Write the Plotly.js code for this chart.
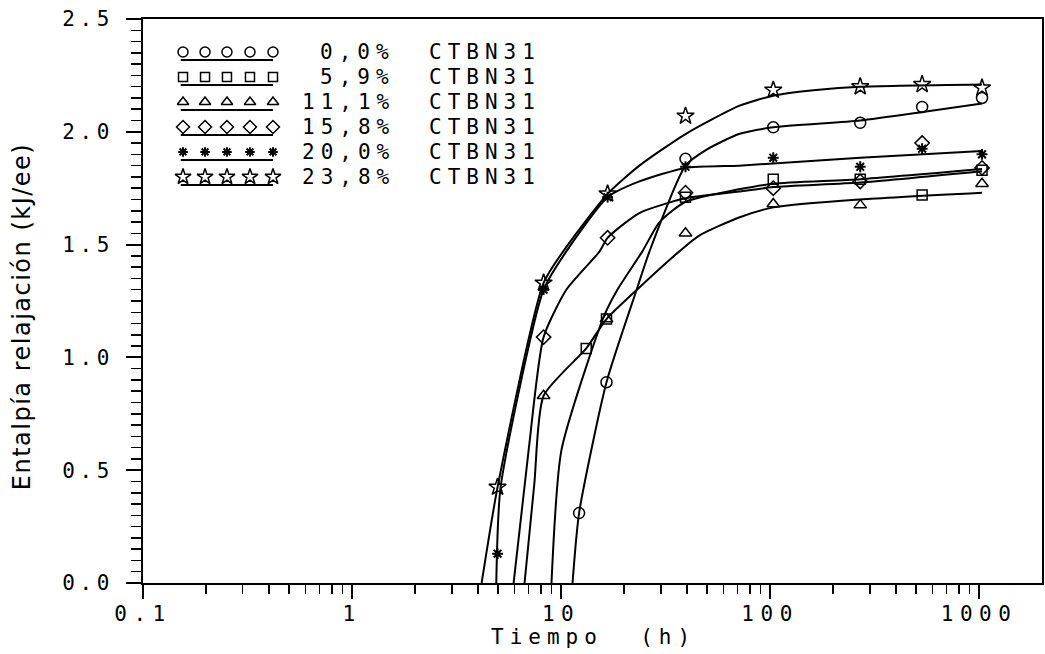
<!DOCTYPE html>
<html><head><meta charset="utf-8">
<script src="https://cdn.plot.ly/plotly-3.0.1.min.js"></script>
<style>
body{margin:0;background:#fff}
.xtick text{letter-spacing:6.5px}
.ytick text{letter-spacing:4.5px}
.annotation-text{letter-spacing:6px}
.annotation.ytitle-ann .annotation-text{letter-spacing:1.5px}
</style></head><body><div id="chart" style="width:1045px;height:654px"></div>
<script>
// ---- series labels ----
const seriesPct = ['0,0%', '5,9%', '11,1%', '15,8%', '20,0%', '23,8%'];
const seriesSuffix = 'CTBN31';
const symbols = ['circle-open', 'square-open', 'triangle-up-open', 'diamond-open', 'asterisk-open', 'star-open'];
const xTitle = 'Tiempo\u00a0\u00a0(h)';
const yTitle = 'Entalpía relajación (kJ/ee)';

// ---- measured points: time (h) and relaxation enthalpy (kJ/ee) ----
const t00 = [12.2, 16.5, 39.4, 103.6, 270, 534, 1033];
const h00 = [0.31, 0.89, 1.88, 2.02, 2.04, 2.11, 2.15];
const t59 = [13.2, 16.5, 39.4, 103.6, 270, 534, 1033];
const h59 = [1.04, 1.17, 1.71, 1.79, 1.79, 1.72, 1.83];
const t111 = [8.25, 16.5, 39.4, 103.6, 270, 1033];
const h111 = [0.83, 1.17, 1.55, 1.68, 1.675, 1.77];
const t158 = [8.25, 16.7, 39.4, 103.6, 270, 534, 1033];
const h158 = [1.09, 1.53, 1.73, 1.75, 1.78, 1.95, 1.84];
const t200 = [4.97, 8.25, 16.7, 39.4, 103.6, 270, 534, 1033];
const h200 = [0.13, 1.30, 1.71, 1.845, 1.885, 1.845, 1.925, 1.90];
const t238 = [4.97, 8.25, 16.7, 39.4, 103.6, 270, 534, 1033];
const h238 = [0.425, 1.33, 1.725, 2.07, 2.185, 2.20, 2.21, 2.195];

// ---- fitted curves ----
const ft00 = [11.35, 12.2, 16.5, 23, 26.5, 39.4, 49.5, 71, 103.6, 270, 558, 1033];
const fh00 = [0, 0.31, 0.89, 1.30, 1.47, 1.85, 1.92, 1.99, 2.02, 2.05, 2.09, 2.125];
const ft59 = [9.0, 10.05, 16, 18.6, 24.5, 29.6, 39.4, 71, 103.6, 270, 1033];
const fh59 = [0, 0.59, 1.18, 1.30, 1.47, 1.60, 1.69, 1.745, 1.77, 1.79, 1.835];
const ft111 = [6.69, 7.45, 8.25, 13.2, 16.5, 23.7, 36.8, 45.8, 71, 103.6, 270, 1033];
const fh111 = [0, 0.44, 0.83, 1.04, 1.17, 1.31, 1.47, 1.54, 1.62, 1.665, 1.70, 1.73];
const ft158 = [5.93, 7.0, 8.25, 10.6, 15.3, 16.7, 23.7, 39.4, 71, 103.6, 270, 1033];
const fh158 = [0, 0.59, 1.09, 1.30, 1.47, 1.53, 1.64, 1.705, 1.735, 1.755, 1.775, 1.825];
const ft200 = [4.9, 5.14, 8.25, 10.6, 16.7, 23.7, 39.4, 71, 103.6, 270, 1033];
const fh200 = [0, 0.425, 1.30, 1.47, 1.71, 1.78, 1.84, 1.85, 1.86, 1.885, 1.915];
const ft238 = [4.17, 4.97, 8.25, 10.8, 16.7, 23.7, 39.4, 71, 103.6, 166, 270, 1033];
const fh238 = [0, 0.425, 1.33, 1.50, 1.725, 1.85, 1.99, 2.115, 2.16, 2.185, 2.20, 2.21];

// ---- axis ticks ----
const xTickVals = [0.1, 1, 10, 100, 1000];
const xTickText = ['0.1', '1', '10', '100', '1000'];
const yTickVals = [0, 0.5, 1.0, 1.5, 2.0, 2.5];
const yTickText = ['0.0', '0.5', '1.0', '1.5', '2.0', '2.5'];

const pts = [[t00, h00], [t59, h59], [t111, h111], [t158, h158], [t200, h200], [t238, h238]];
const fits = [[ft00, fh00], [ft59, fh59], [ft111, fh111], [ft158, fh158], [ft200, fh200], [ft238, fh238]];

const FONT = 'DejaVu Sans Mono, Liberation Mono, monospace';
const TFONT = 'DejaVu Sans, Verdana, sans-serif';
const BLACK = '#000';
const markerSize = [11, 10, 11, 11, 9, 13];
const markerLW = [1.5, 1.5, 1.5, 1.5, 2, 1.5];

const traces = [];
fits.forEach(function (f, i) {
  traces.push({x: f[0], y: f[1], mode: 'lines', type: 'scatter', showlegend: false,
    line: {color: BLACK, width: 2, shape: 'spline', smoothing: 0.6}, hoverinfo: 'skip'});
});
pts.forEach(function (p, i) {
  traces.push({x: p[0], y: p[1], mode: 'markers', type: 'scatter', showlegend: false,
    marker: {symbol: symbols[i], size: markerSize[i], color: BLACK, line: {color: BLACK, width: markerLW[i]}}});
});

// ---- custom legend (5 markers over an underline), drawn on a hidden overlay axis ----
const legX = [0.0445, 0.069, 0.0934, 0.119, 0.1446];
const legLineX = [0.042, 0.1446];
const legTop = 0.9415, legStep = 0.0443, legUnder = 0.0142;
const annotations = [];
seriesPct.forEach(function (lab, i) {
  const yy = legTop - i * legStep;
  traces.push({x: legX, y: legX.map(function () { return yy; }), xaxis: 'x2', yaxis: 'y2',
    mode: 'markers', type: 'scatter', showlegend: false, hoverinfo: 'skip',
    marker: {symbol: symbols[i], size: markerSize[i] - 1, color: BLACK, line: {color: BLACK, width: markerLW[i]}}});
  traces.push({x: legLineX, y: [yy - legUnder, yy - legUnder], xaxis: 'x2', yaxis: 'y2',
    mode: 'lines', type: 'scatter', showlegend: false, hoverinfo: 'skip',
    line: {color: BLACK, width: 2}});
  annotations.push({xref: 'paper', yref: 'paper', x: 0.282, y: yy, xanchor: 'right', yanchor: 'middle',
    text: lab, showarrow: false, font: {family: FONT, size: 21, color: BLACK}});
  annotations.push({xref: 'paper', yref: 'paper', x: 0.3159, y: yy, xanchor: 'left', yanchor: 'middle',
    text: seriesSuffix, showarrow: false, font: {family: FONT, size: 21, color: BLACK}});
});
// x-axis title
annotations.push({xref: 'paper', yref: 'paper', x: 0.5006, y: -0.0957, xanchor: 'center', yanchor: 'middle',
  text: xTitle, showarrow: false, font: {family: FONT, size: 21, color: BLACK}});
// y-axis title, placed as a rotated annotation
annotations.push({xref: 'paper', yref: 'paper', x: -0.1346, y: 0.4734, xanchor: 'center', yanchor: 'middle',
  textangle: -90, text: yTitle, showarrow: false, name: 'ytitle',
  font: {family: TFONT, size: 24, color: BLACK}});

const xMinor = [];
[0.1, 1, 10, 100].forEach(function (d) { for (let k = 2; k <= 9; k++) xMinor.push(d * k); });

const layout = {
  width: 1045, height: 654,
  margin: {l: 143, r: 3, t: 19, b: 71},
  paper_bgcolor: '#fff', plot_bgcolor: '#fff',
  showlegend: false,
  xaxis: {
    type: 'log', range: [-1, Math.log10(2000)],
    tickmode: 'array', tickvals: xTickVals, ticktext: xTickText,
    ticks: 'outside', ticklen: 14, tickwidth: 2, tickcolor: BLACK,
    minor: {tickmode: 'array', tickvals: xMinor, ticks: 'outside', ticklen: 9, tickwidth: 1.5, tickcolor: BLACK, showgrid: false},
    showline: true, linewidth: 2, linecolor: BLACK, mirror: true,
    showgrid: false, zeroline: false,
    ticklabelstandoff: -3,
    tickfont: {family: FONT, size: 21, color: BLACK}
  },
  yaxis: {
    range: [0, 2.5],
    tickmode: 'array', tickvals: yTickVals, ticktext: yTickText,
    ticks: 'outside', ticklen: 15, tickwidth: 2, tickcolor: BLACK,
    minor: {dtick: 0.05, tick0: 0, ticks: 'outside', ticklen: 10, tickwidth: 1.5, tickcolor: BLACK, showgrid: false},
    showline: true, linewidth: 2, linecolor: BLACK, mirror: true,
    showgrid: false, zeroline: false,
    ticklabelstandoff: 8,
    tickfont: {family: FONT, size: 21, color: BLACK}
  },
  xaxis2: {overlaying: 'x', range: [0, 1], visible: false, fixedrange: true},
  yaxis2: {overlaying: 'y', range: [0, 1], visible: false, fixedrange: true},
  annotations: annotations
};

Plotly.newPlot('chart', traces, layout, {displayModeBar: false, staticPlot: true}).then(function () {
  // narrower tracking for the rotated y title
  const anns = document.querySelectorAll('.annotation');
  const last = anns[anns.length - 1];
  if (last) last.classList.add('ytitle-ann');
});
</script></body></html>
